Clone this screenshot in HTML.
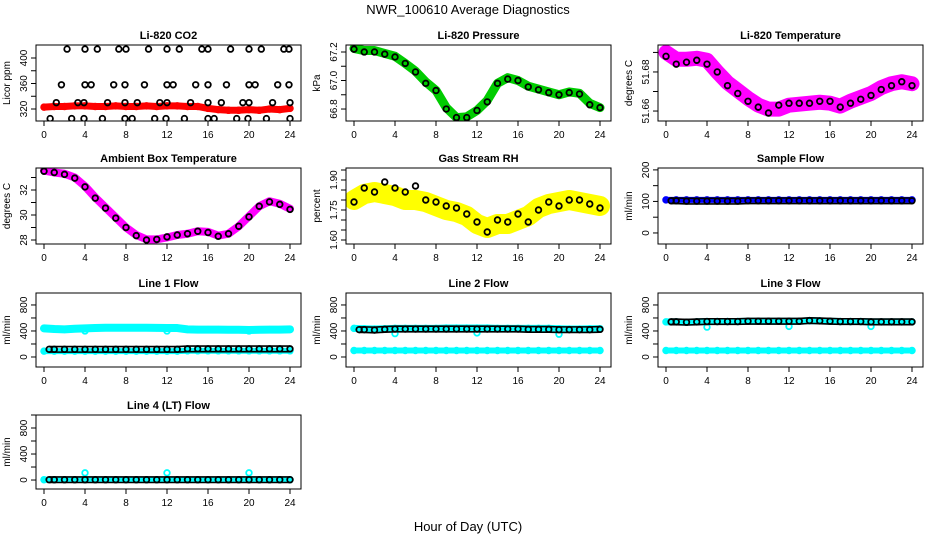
<!DOCTYPE html>
<html><head><meta charset="utf-8"><style>
html,body{margin:0;padding:0;background:#fff;}
svg{display:block;font-family:"Liberation Sans",Arial,sans-serif;}
</style></head><body>
<svg id="chart" width="936" height="540" viewBox="0 0 936 540">
<text x="468" y="14" text-anchor="middle" font-size="13">NWR_100610  Average Diagnostics</text>
<text x="468" y="531" text-anchor="middle" font-size="13">Hour of Day (UTC)</text>
</svg>
<script>
// ---------- data ----------
const hours = [0,1,2,3,4,5,6,7,8,9,10,11,12,13,14,15,16,17,18,19,20,21,22,23,24];
const xTicks = [0,4,8,12,16,20,24];
// CO2
const co2Color = [323,324,324,325,325,324,324,325,324,324,325,324,325,325,324,324,321,319,318,318,319,318,320,319,321];
const co2BlackH = [2.25,4.0,5.2,7.3,8.0,10.2,12.0,13.2,15.4,16.0,18.2,20.0,21.2,23.4,23.9, 1.7,4.0,4.6,6.8,7.9,9.8,12.0,12.6,14.8,16.0,17.8,20.0,20.6,22.8,23.9, 1.2,3.3,3.9,6.2,7.9,9.1,11.3,12.0,14.3,16.0,17.3,19.4,20.0,22.3,24.0, 0.6,2.7,3.9,5.7,7.9,8.6,10.8,11.9,13.7,16.0,16.6,18.8,19.9,21.7,24.0];
const co2BlackV = [414,414,414,414,414,414,414,414,414,414,414,414,414,414,414, 358,358,358,358,358,358,358,358,358,358,358,358,358,358,358, 330,330,330,330,330,330,330,330,330,330,330,330,330,330,330, 305,305,305,305,305,305,305,305,305,305,305,305,305,305,305];
// Pressure
const presColor = [67.225,67.21,67.21,67.19,67.17,67.12,67.065,66.99,66.93,66.81,66.74,66.745,66.79,66.86,66.98,67.02,67.0,66.96,66.94,66.92,66.9,66.92,66.91,66.84,66.81];
const presBlack = [67.22,67.2,67.2,67.185,67.165,67.12,67.06,66.98,66.93,66.8,66.74,66.74,66.79,66.85,66.98,67.01,67.0,66.955,66.935,66.915,66.9,66.915,66.905,66.83,66.81];
// Li-820 temperature
const tempColor = [51.690,51.6865,51.6865,51.687,51.686,51.680,51.6745,51.6705,51.6665,51.663,51.661,51.661,51.663,51.6635,51.664,51.6645,51.664,51.6625,51.665,51.667,51.669,51.672,51.674,51.675,51.674];
const tempBlack = [51.688,51.684,51.685,51.686,51.684,51.680,51.673,51.669,51.665,51.662,51.659,51.663,51.664,51.664,51.664,51.665,51.665,51.662,51.664,51.666,51.668,51.671,51.673,51.675,51.673];
// Ambient box temperature
const ambColor = [33.55,33.4,33.3,33.0,32.3,31.4,30.6,29.8,29.0,28.4,28.05,28.05,28.2,28.4,28.5,28.7,28.65,28.35,28.5,29.1,29.9,30.7,31.1,30.9,30.5];
const ambBlack = [33.5,33.4,33.25,32.95,32.25,31.35,30.55,29.75,29.0,28.35,28.0,28.05,28.25,28.4,28.5,28.7,28.6,28.3,28.5,29.1,29.85,30.7,31.05,30.85,30.45];
// Gas stream RH
const rhColor = [1.80,1.83,1.84,1.83,1.82,1.80,1.80,1.79,1.77,1.75,1.74,1.72,1.68,1.66,1.68,1.68,1.70,1.72,1.76,1.78,1.79,1.80,1.79,1.78,1.77];
const rhBlack = [1.79,1.86,1.84,1.89,1.86,1.84,1.87,1.80,1.79,1.77,1.76,1.73,1.69,1.64,1.70,1.69,1.73,1.69,1.75,1.79,1.77,1.80,1.80,1.78,1.76];
// Sample flow
const sampleColor = [105,105,105,105,105,105,105,105,105,105,105,105,105,105,105,105,105,105,105,105,105,105,105,105,105];
const sampleBlack = [102,102,101,101,101,101,101,101,102,102,102,102,102,102,102,102,102,102,102,102,102,102,102,102,102];
// Line flows
const l1High = [440,430,425,435,440,445,450,450,450,450,450,448,445,445,425,420,420,420,418,418,415,418,420,420,425];
const l1Low = [90,90,90,90,90,90,90,90,90,90,90,90,90,90,95,95,95,95,95,95,95,95,95,95,95];
const l1Black = [118,118,118,118,118,118,118,118,118,118,118,118,118,118,125,125,125,125,125,125,125,125,125,125,125];
const l2High = [440,435,430,435,440,440,440,440,440,445,445,445,445,445,440,440,440,440,440,440,435,430,430,435,435];
const l2Low = [100,100,100,100,100,100,100,100,100,100,100,100,100,100,100,100,100,100,100,100,100,100,100,100,100];
const l2Black = [420,420,415,425,430,430,430,430,430,430,430,430,430,430,430,430,430,425,425,425,420,420,420,420,425];
const l3High = [540,540,535,540,545,545,545,545,550,550,550,550,550,550,560,555,550,545,545,545,540,540,540,540,540];
const l3Low = [100,100,100,100,100,100,100,100,100,100,100,100,100,100,100,100,100,100,100,100,100,100,100,100,100];
const l3Black = [540,540,535,540,545,545,545,545,550,550,550,550,550,550,560,555,550,545,545,545,540,540,540,540,540];
const l4Cyan = [5,5,5,5,5,5,5,5,5,5,5,5,5,5,5,5,5,5,5,5,5,5,5,5,5];
const l4Black = [5,5,5,5,5,5,5,5,5,5,5,5,5,5,5,5,5,5,5,5,5,5,5,5,5];
const dipHours = [4,12,20];
const l1Dips = [400,400,400];
const l2Dips = [360,370,350];
const l3Dips = [460,470,470];
const l4Dips = [110,110,110];

// ---------- drawing ----------
const NS = "http://www.w3.org/2000/svg";
const svg = document.getElementById('chart');
function mk(tag, attrs, parent){
  const e = document.createElementNS(NS, tag);
  for (const k in attrs) e.setAttribute(k, attrs[k]);
  (parent||svg).appendChild(e);
  return e;
}
function panel(p){
  const g = mk('g', {});
  
  
  const W = 265, H = p.bottom - p.top;
  const xs = h => p.left + 8 + h * 10.25;
  const ys = v => p.top + (p.ymax - v) / (p.ymax - p.ymin) * H;
  p.xs = xs; p.ys = ys; p.g = g;
  const t = mk('text', {x: p.left + W/2, y: p.top - 6, 'text-anchor':'middle', 'font-size':11, 'font-weight':'bold'}, g);
  t.textContent = p.title;
  
  
  const yl = mk('text', {x: 0, y: 0, 'text-anchor':'middle', 'font-size':10, transform:`translate(${p.left-26},${p.top+H/2}) rotate(-90)`}, g);
  yl.textContent = p.ylabel;
  
  
  xTicks.forEach(h => {
    mk('line', {x1: xs(h), x2: xs(h), y1: p.bottom, y2: p.bottom+5, stroke:'#000'}, g);
    const tl = mk('text', {x: xs(h), y: p.bottom+17, 'text-anchor':'middle', 'font-size':10}, g);
    tl.textContent = h;
    
    
  });
  p.yticks.forEach(v => {
    if (ys(v) < p.top - 0.5) return;
    mk('line', {x1: p.left-5, x2: p.left, y1: ys(v), y2: ys(v), stroke:'#000'}, g);
  });
  p.ylabels.forEach((v, i) => {
    const tl = mk('text', {x:0, y:0, 'text-anchor':'middle', 'font-size':10, transform:`translate(${p.left-9},${ys(v)}) rotate(-90)`}, g);
    tl.textContent = p.ylabelText[i];
    
    
  });
  const clip = mk('clipPath', {id: 'c'+p.name}, g);
  mk('rect', {x:p.left, y:p.top, width:W, height:H}, clip);
  p.plot = mk('g', {'clip-path':`url(#c${p.name})`}, g);
  p.frame = () => {
    const r = mk('rect', {x:p.left, y:p.top, width:W, height:H, fill:'none', stroke:'#000', 'stroke-width':1}, g);
    
    
  };
  return p;
}
function band(p, vals, color, width, name){
  const pts = hours.map((h,i) => p.xs(h)+','+p.ys(vals[i])).join(' ');
  const l = mk('polyline', {points: pts, fill:'none', stroke:color, 'stroke-width':width, 'stroke-linejoin':'round', 'stroke-linecap':'round'}, p.plot);
  
  
  hours.forEach((h,i) => {
    const c = mk('circle', {cx:p.xs(h), cy:p.ys(vals[i]), r:3, fill:'none', stroke:color, 'stroke-width':1.5}, p.plot);
    
    
  });
}
function pts(p, hs, vals, color, name, r){
  hs.forEach((h,i) => {
    const c = mk('circle', {cx:p.xs(h), cy:p.ys(vals[i]), r:r||2.8, fill:'none', stroke:color, 'stroke-width':1.8}, p.plot);
    
    
  });
}
function chain(p, vals, color, name){
  [-2.8, 2.8].forEach(off => {
    const s = hours.slice(0).map((h,i)=> (p.xs(h < 0.5 ? 0.5 : h))+','+(p.ys(vals[i])+off)).join(' ');
    const l = mk('polyline', {points:s, fill:'none', stroke:color, 'stroke-width':1.6}, p.plot);
    
    
  });
  const hs = [];
  for (let i=0;i<hours.length;i++) hs.push(hours[i]);
  pts(p, hs.map(h=>h<0.5?0.5:h), vals, color, name);
}

const L = [36, 346, 658];
const flowT = [0,200,400,600,800,1000], flowL=[0,400,800], flowLT=['0','400','800'];

// CO2
let p = panel({name:'co2-panel', title:'Li-820 CO2', ylabel:'Licor ppm', left:L[0], top:45, bottom:121, ymin:301.2, ymax:420.4, yticks:[320,340,360,380,400], ylabels:[320,360,400], ylabelText:['320','360','400']});
band(p, co2Color, '#ff0000', 7, 'co2-series');
pts(p, co2BlackH, co2BlackV, '#000', 'co2-average-point');
p.frame();

// Pressure
p = panel({name:'pressure-panel', title:'Li-820 Pressure', ylabel:'kPa', left:L[1], top:45, bottom:121, ymin:66.716, ymax:67.249, yticks:[66.8,66.9,67.0,67.1,67.2], ylabels:[66.8,67.0,67.2], ylabelText:['66.8','67.0','67.2']});
band(p, presColor, '#00cc00', 9, 'pressure-series');
pts(p, hours, presBlack, '#000', 'pressure-average-point');
p.frame();

// Li-820 temp
p = panel({name:'li820-temp-panel', title:'Li-820 Temperature', ylabel:'degrees C', left:L[2], top:45, bottom:121, ymin:51.6549, ymax:51.6938, yticks:[51.66,51.67,51.68,51.69], ylabels:[51.66,51.68], ylabelText:['51.66','51.68']});
band(p, tempColor, '#ff00ff', 15, 'li820-temp-series');
pts(p, hours, tempBlack, '#000', 'li820-temp-average-point');
p.frame();

// Ambient
p = panel({name:'ambient-temp-panel', title:'Ambient Box Temperature', ylabel:'degrees C', left:L[0], top:168, bottom:244, ymin:27.68, ymax:33.76, yticks:[28,29,30,31,32,33], ylabels:[28,30,32], ylabelText:['28','30','32']});
band(p, ambColor, '#ff00ff', 8, 'ambient-temp-series');
pts(p, hours, ambBlack, '#000', 'ambient-temp-average-point');
p.frame();

// RH
p = panel({name:'rh-panel', title:'Gas Stream RH', ylabel:'percent', left:L[1], top:168, bottom:244, ymin:1.58, ymax:1.96, yticks:[1.60,1.65,1.70,1.75,1.80,1.85,1.90,1.95], ylabels:[1.60,1.75,1.90], ylabelText:['1.60','1.75','1.90']});
band(p, rhColor, '#ffff00', 20, 'rh-series');
pts(p, hours, rhBlack, '#000', 'rh-average-point');
p.frame();

// Sample flow
p = panel({name:'sample-flow-panel', title:'Sample Flow', ylabel:'ml/min', left:L[2], top:168, bottom:244, ymin:-35, ymax:206, yticks:[0,50,100,150,200], ylabels:[0,100,200], ylabelText:['0','100','200']});
band(p, sampleColor, '#0000ff', 6, 'sample-flow-series');
chain(p, sampleBlack, '#000', 'sample-flow-average-point');
p.frame();

// Line 1
p = panel({name:'line1-flow-panel', title:'Line 1 Flow', ylabel:'ml/min', left:L[0], top:293, bottom:367, ymin:-154, ymax:984, yticks:flowT, ylabels:flowL, ylabelText:flowLT});
band(p, l1High, '#00ffff', 8, 'line1-high-series');
band(p, l1Low, '#00ffff', 6, 'line1-low-series');
pts(p, dipHours, l1Dips, '#00ffff', 'line1-dip-point');
chain(p, l1Black, '#000', 'line1-average-point');
p.frame();

// Line 2
p = panel({name:'line2-flow-panel', title:'Line 2 Flow', ylabel:'ml/min', left:L[1], top:293, bottom:367, ymin:-154, ymax:984, yticks:flowT, ylabels:flowL, ylabelText:flowLT});
band(p, l2High, '#00ffff', 7, 'line2-high-series');
band(p, l2Low, '#00ffff', 6, 'line2-low-series');
pts(p, dipHours, l2Dips, '#00ffff', 'line2-dip-point');
chain(p, l2Black, '#000', 'line2-average-point');
p.frame();

// Line 3
p = panel({name:'line3-flow-panel', title:'Line 3 Flow', ylabel:'ml/min', left:L[2], top:293, bottom:367, ymin:-154, ymax:984, yticks:flowT, ylabels:flowL, ylabelText:flowLT});
band(p, l3High, '#00ffff', 7, 'line3-high-series');
band(p, l3Low, '#00ffff', 6, 'line3-low-series');
pts(p, dipHours, l3Dips, '#00ffff', 'line3-dip-point');
chain(p, l3Black, '#000', 'line3-average-point');
p.frame();

// Line 4
p = panel({name:'line4-flow-panel', title:'Line 4 (LT) Flow', ylabel:'ml/min', left:L[0], top:415, bottom:489, ymin:-138, ymax:1000, yticks:flowT, ylabels:flowL, ylabelText:flowLT});
band(p, l4Cyan, '#00ffff', 6, 'line4-series');
pts(p, dipHours, l4Dips, '#00ffff', 'line4-dip-point');
chain(p, l4Black, '#000', 'line4-average-point');
p.frame();
</script>
</body></html>
